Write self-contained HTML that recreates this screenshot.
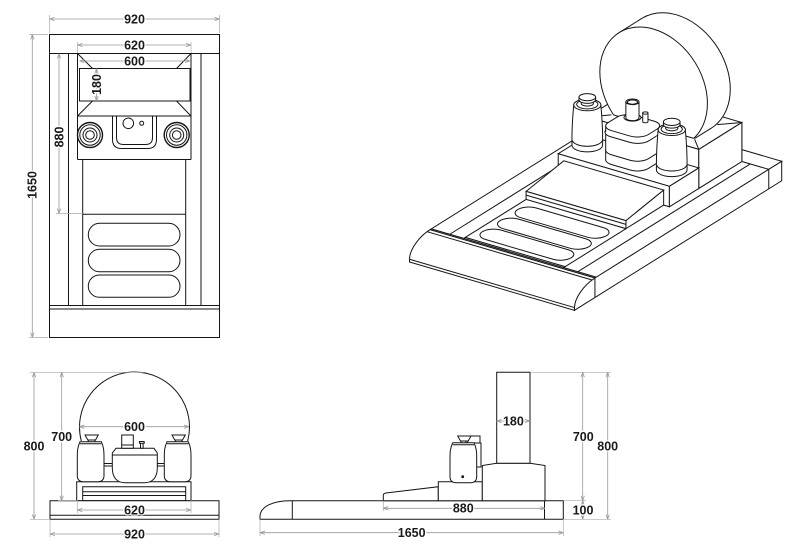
<!DOCTYPE html>
<html><head><meta charset="utf-8"><style>
html,body{margin:0;padding:0;background:#fff}
svg{display:block}
svg *{vector-effect:non-scaling-stroke}
.w{fill:#fff;stroke:#151515;stroke-width:1}
.n{fill:none;stroke:#151515;stroke-width:1}
.d{fill:none;stroke:#999;stroke-width:.8;marker-start:url(#a);marker-end:url(#a)}
.e{fill:none;stroke:#aaa;stroke-width:.7}
text{font-family:"Liberation Sans",Arial,sans-serif;font-weight:bold;font-size:12.5px;fill:#1a1a1a;text-anchor:middle;stroke:#fff;stroke-width:2.5px;paint-order:stroke;stroke-linejoin:round}
</style></head><body>
<svg width="800" height="549" viewBox="0 0 800 549" xmlns="http://www.w3.org/2000/svg">
<defs>
<marker id="a" viewBox="0 0 6 6" refX="6" refY="3" markerWidth="5" markerHeight="5" orient="auto-start-reverse" markerUnits="userSpaceOnUse"><path d="M0,1 L6,3 L0,5" fill="none" stroke="#999" stroke-width="0.8"/></marker>
</defs>

<!-- ================= PLAN VIEW ================= -->
<rect class="n" x="49.5" y="34.5" width="170" height="303"/>
<path class="n" d="M49.5,53.5H219.5 M49.5,305.5H219.5 M49.5,309H219.5 M68.5,53.5V305.5 M201,53.5V305.5"/>
<path class="n" d="M77.5,53.5V159.5 M191,53.5V159.5 M77.5,116H191 M77.5,159.5H191"/>
<rect class="n" x="79.5" y="68.5" width="110.5" height="32.5"/>
<path class="n" d="M77.5,53.5L92.5,68.5 M191,53.5L176.5,68.5 M92.5,101L77.5,116 M176.5,101L191,116"/>
<g class="n">
<circle cx="90" cy="135" r="12.5" stroke-width="1.4"/><circle cx="90" cy="135" r="10.2"/><circle cx="90" cy="135" r="7"/><circle cx="90" cy="135" r="4.3"/>
<circle cx="176.7" cy="135" r="12.5" stroke-width="1.4"/><circle cx="176.7" cy="135" r="10.2"/><circle cx="176.7" cy="135" r="7"/><circle cx="176.7" cy="135" r="4.3"/>
</g>
<path class="n" d="M112.5,116V139.5Q112.5,148.5 121.5,148.5H147.5Q156.5,148.5 156.5,139.5V116"/>
<path class="n" d="M116.5,116V137.5Q116.5,144.5 123.5,144.5H145.5Q152.5,144.5 152.5,137.5V116"/>
<circle class="n" cx="128.3" cy="123.3" r="5.3" stroke-width="1.7"/>
<circle class="n" cx="141.7" cy="123.3" r="2" stroke-width="1.2"/>
<path class="n" d="M82.7,159.5V305.5 M185.7,159.5V305.5 M82.7,214.3H185.7"/>
<rect class="n" x="88.3" y="223.3" width="91.7" height="22.7" rx="11.3"/>
<rect class="n" x="88.3" y="249.3" width="91.7" height="22.4" rx="11.2"/>
<rect class="n" x="88.3" y="275" width="91.7" height="22.3" rx="11.1"/>
<!-- plan dims -->
<path class="e" d="M49.5,15V33 M219.5,15V33 M29,34.5H48 M29,337.5H48 M77.5,42V53 M191,42V53 M56,213.5H82.7"/>
<line class="d" x1="49.5" y1="19" x2="219.5" y2="19"/>
<text x="134.5" y="23.4">920</text>
<line class="d" x1="32.3" y1="34.5" x2="32.3" y2="337.5"/>
<text transform="translate(32.3,185) rotate(-90)" y="4.4">1650</text>
<line class="d" x1="77.5" y1="45" x2="191" y2="45"/>
<text x="134.5" y="49.4">620</text>
<line class="d" x1="79.5" y1="61" x2="190" y2="61"/>
<text x="134.5" y="65.4">600</text>
<line class="d" x1="96.5" y1="68.5" x2="96.5" y2="101"/>
<text transform="translate(96.5,84.5) rotate(-90)" y="4.4">180</text>
<line class="d" x1="59" y1="53.5" x2="59" y2="213.5"/>
<text transform="translate(59,137) rotate(-90)" y="4.4">880</text>

<!-- ================= FRONT VIEW ================= -->
<path class="w" d="M81.3,441 A55,55 0 1 1 187.7,441"/>
<rect class="w" x="76.7" y="481.7" width="114.3" height="19"/>
<rect class="n" x="82.7" y="486.7" width="103" height="14"/>
<path class="n" d="M82.7,491.7H185.7 M82.7,495.5H185.7"/>
<rect class="w" x="50" y="500.7" width="169" height="18.6"/>
<path class="n" d="M50,515.3H219"/>
<path class="n" d="M104,463.5H112.3 M104,466H112.3 M157.3,463.5H164.3 M157.3,466H164.3"/>
<g id="fp">
<path class="w" d="M80,441.7 C77.6,447 77.3,451 77.3,457 L77.3,475.5 Q77.3,481.7 83.5,481.7 L97.8,481.7 Q104,481.7 104,475.5 L104,457 C104,451 103.7,447 101.3,441.7 Z"/>
<path class="n" d="M80,443.8H101.3"/>
<path class="w" d="M85,435H98.3L95.5,440H87.8Z"/>
<path class="n" d="M88.3,440V441.7 M95,440V441.7"/>
</g>
<use href="#fp" transform="translate(87,0)"/>
<path class="w" d="M116,448.3H154L157.3,453V468C157.3,478 152,482.7 145,482.7H124.5C117.5,482.7 112.3,478 112.3,468V453Z"/>
<path class="n" d="M112.3,455H157.3"/>
<rect class="w" x="121.7" y="435" width="11.6" height="13.3"/>
<path class="n" d="M121.7,445H133.3"/>
<rect class="w" x="140.5" y="443" width="2.6" height="5.3"/>
<rect class="w" x="139.4" y="441.5" width="4.8" height="1.8"/>
<!-- front dims -->
<path class="e" d="M30,372.3H146 M30,519.3H50 M58,500.7H76.7 M77.3,500V513 M191,500V513 M50,519.3V537 M219,519.3V537"/>
<line class="d" x1="34" y1="372.3" x2="34" y2="519.3"/>
<text x="34" y="450.4">800</text>
<line class="d" x1="61.7" y1="372.3" x2="61.7" y2="500.7"/>
<text x="61.7" y="441">700</text>
<line class="d" x1="79.3" y1="426.7" x2="189" y2="426.7"/>
<text x="134.5" y="431.1">600</text>
<line class="d" x1="77.3" y1="510" x2="191" y2="510"/>
<text x="134.5" y="514.4" style="stroke-width:2px">620</text>
<line class="d" x1="50" y1="534" x2="219" y2="534"/>
<text x="134.5" y="538.4">920</text>

<!-- ================= SIDE VIEW ================= -->
<path class="w" d="M260,519.3V516.7C260,507 272,500.7 290,500.7H563.3V519.3Z"/>
<path class="n" d="M292.3,500.7V519.3 M544.5,500.7V519.3"/>
<path class="w" d="M383.3,500.7V495.5Q383.3,493.3 386,493L438.3,486.7V500.7Z"/>
<rect class="w" x="438.3" y="481.7" width="44" height="19"/>
<path class="w" d="M482.3,500.7V465.5L496.7,463.3H530L545,465.5V500.7Z"/>
<rect class="w" x="496.7" y="372.3" width="33.3" height="91"/>
<rect class="w" x="466" y="436" width="14" height="7"/>
<rect class="w" x="473" y="443" width="8" height="24"/>
<use href="#fp" transform="translate(372.7,1)"/>
<circle cx="462.7" cy="476.7" r="1.4" fill="#151515"/>
<!-- side dims -->
<path class="e" d="M530,372.3H611 M563.3,500.7H586 M563.3,519.3H611 M383.3,500.7V511 M260,519.3V536 M563.3,519.3V536"/>
<line class="d" x1="496.7" y1="421" x2="530" y2="421"/>
<text x="513.4" y="425.4">180</text>
<line class="d" x1="383.3" y1="508.3" x2="545" y2="508.3"/>
<text x="463.3" y="512.7">880</text>
<line class="d" x1="260" y1="532.7" x2="563.3" y2="532.7"/>
<text x="411.7" y="537.1">1650</text>
<line class="d" x1="582.7" y1="372.3" x2="582.7" y2="500.7"/>
<line class="d" x1="582.7" y1="500.7" x2="582.7" y2="519.3"/>
<text x="583.3" y="441.1">700</text>
<text x="583" y="514.4">100</text>
<line class="d" x1="607.7" y1="372.3" x2="607.7" y2="519.3"/>
<text x="607.7" y="450.4">800</text>

<!-- ================= ISOMETRIC ================= -->
<!-- base top -->
<g transform="matrix(0.1793 0.0525 0.1256 -0.0785 409.5 242.5)">
<path class="w" d="M0,163H920V1650H0Z"/>
<path class="n" d="M103,174V1547 M817,174V1547 M0,174H920 M0,1547H920 M181,174V670 M738,174V670 M181,186H738"/>
<rect class="n" x="211" y="498" width="496" height="123" rx="61"/>
<rect class="n" x="211" y="358" width="496" height="122" rx="61"/>
<rect class="n" x="211" y="219" width="496" height="121" rx="60"/>
</g>
<!-- base right face -->
<g transform="matrix(0.1256 -0.0785 0 -0.195 574.46 310.3)">
<path class="w" d="M0,0L0,14C0,61 73,100 163,100L1650,100L1650,0Z"/>
<path class="n" d="M163,100V0 M1547,100V0"/>
</g>
<!-- nose -->
<path class="w" d="M429.97,229.7C418.67,236.77 409.5,250.1 409.5,259.27L409.5,262L574.46,310.3L574.46,307.57C574.46,298.4 583.63,285.07 594.93,278Z"/>
<path class="n" d="M409.5,259.27L574.46,307.57 M427.1,231.7L592.06,280"/>

<!-- block (pass 1) -->
<g transform="matrix(0.1793 0.0525 0.1256 -0.0785 409.5 203.5)">
<rect class="w" x="150" y="1204" width="620" height="343"/>
<path class="n" d="M150,1204L228,1282 M770,1204L692,1282 M150,1547L231,1466 M770,1547L689,1466"/>
</g>
<g transform="matrix(0.1793 0.0525 0 -0.195 560.72 167.49)"><rect class="w" x="150" y="100" width="620" height="200"/></g>
<g transform="matrix(0.1256 -0.0785 0 -0.195 547.56 302.43)"><rect class="w" x="1204" y="100" width="343" height="200"/></g>

<!-- disc -->
<g transform="matrix(0.1793 0.0525 0 -0.195 594.01 146.68)"><circle class="w" cx="460" cy="500" r="300"/></g>
<polygon points="618.91,32.77 641.77,18.48 711.21,128.18 688.35,142.47" fill="#fff"/>
<path class="n" d="M618.91,32.77L641.77,18.48 M688.35,142.47L711.21,128.18"/>
<g transform="matrix(0.1793 0.0525 0 -0.195 571.15 160.97)"><circle class="w" cx="460" cy="500" r="300"/></g>

<!-- block (pass 2, front part) -->
<g transform="matrix(0.1793 0.0525 0.1256 -0.0785 409.5 203.5)">
<rect x="150" y="1204" width="620" height="83" fill="#fff"/>
<path class="n" d="M150,1287V1204H770V1287 M150,1204L228,1282 M770,1204L692,1282"/>
</g>
<path class="n" d="M613.46,114.86L693.79,138.38"/>
<g transform="matrix(0.1793 0.0525 0 -0.195 560.72 167.49)"><rect class="w" x="150" y="100" width="620" height="200"/></g>
<g transform="matrix(0.1256 -0.0785 0 -0.195 547.56 302.43)"><rect class="w" x="1204" y="100" width="343" height="200"/></g>

<!-- lower step -->
<g transform="matrix(0.1793 0.0525 0.1256 -0.0785 409.5 222.025)"><rect class="w" x="150" y="970" width="620" height="234"/></g>
<g transform="matrix(0.1793 0.0525 0 -0.195 531.33 185.85)"><rect class="w" x="150" y="100" width="620" height="105"/></g>
<g transform="matrix(0.1256 -0.0785 0 -0.195 547.56 302.43)"><rect class="w" x="970" y="100" width="234" height="105"/></g>

<!-- seat -->
<polygon class="w" points="526.1,191.4 625.97,220.65 663.65,190.08 563.78,160.83"/>
<polygon class="w" points="526.1,191.4 625.97,220.65 625.97,228.65 526.1,199.4"/>
<path class="n" d="M526.1,195.1L625.97,224.35"/>
<polygon class="w" points="625.97,220.65 663.65,190.08 663.65,205.1 625.97,228.65"/>

<!-- left pot -->
<g id="ip">
<path class="w" d="M573.72,104.96C572.3,120 571.8,135 571.99,145.3A15.3,6.6 0 0 0 602.59,145.3C602.78,135 602.3,120 600.86,104.96A13.57,5.85 0 0 0 573.72,104.96Z"/>
<path class="n" d="M572.3,140.5A15.1,6.5 0 0 0 602.3,140.5"/>
<ellipse class="w" cx="587.29" cy="104.96" rx="13.57" ry="5.85"/>
<ellipse class="n" cx="587.29" cy="104.4" rx="10.6" ry="4.5" stroke-width="1.6"/>
<path class="w" d="M581.2,100V103.5A6.1,2.6 0 0 0 593.4,103.5V100Z"/>
<path class="w" d="M578.97,97.16V99.8A8.32,3.59 0 0 0 595.61,99.8V97.16Z"/>
<ellipse class="w" cx="587.29" cy="97.16" rx="8.32" ry="3.59"/>
</g>

<!-- center pot -->
<g transform="matrix(0.1793 0.0525 0.1256 -0.0785 409.5 220.66)"><rect class="w" x="365" y="1000" width="225" height="190" rx="60"/></g>
<rect x="605.7" y="150.01" width="53.9" height="9.75" fill="#fff"/>
<path class="n" d="M605.7,150.01V159.76 M659.6,150.01V159.76"/>
<g transform="matrix(0.1793 0.0525 0.1256 -0.0785 409.5 210.91)"><rect class="w" x="365" y="1000" width="225" height="190" rx="60"/></g>
<rect x="605.7" y="131.88" width="53.9" height="18.13" fill="#fff"/>
<path class="n" d="M605.7,131.88V150.01 M659.6,131.88V150.01"/>
<g transform="matrix(0.1793 0.0525 0.1256 -0.0785 409.5 192.775)"><rect class="w" x="362" y="997" width="231" height="196" rx="62"/></g>
<rect x="605.7" y="125.83" width="53.9" height="6.05" fill="#fff"/>
<path class="n" d="M605.7,125.83V131.88 M659.6,125.83V131.88"/>
<g transform="matrix(0.1793 0.0525 0.1256 -0.0785 409.5 186.73)"><rect class="w" x="365" y="1000" width="225" height="190" rx="60"/></g>
<ellipse class="w" cx="632.44" cy="117.5" rx="8.5" ry="3.6"/>
<path class="w" d="M625.87,101.84V117.83A6.57,2.83 0 0 0 639.01,117.83V101.84Z"/>
<ellipse class="w" cx="632.44" cy="101.84" rx="6.57" ry="2.83"/>
<ellipse class="n" cx="632.44" cy="102.1" rx="5.1" ry="2.1"/>
<path class="w" d="M642.72,113V121.6A2.63,1.13 0 0 0 647.98,121.6V113Z"/>
<ellipse class="w" cx="645.35" cy="113" rx="2.63" ry="1.13"/>

<!-- right pot -->
<use href="#ip" transform="translate(84.45,24.73)"/>
</svg>
</body></html>
